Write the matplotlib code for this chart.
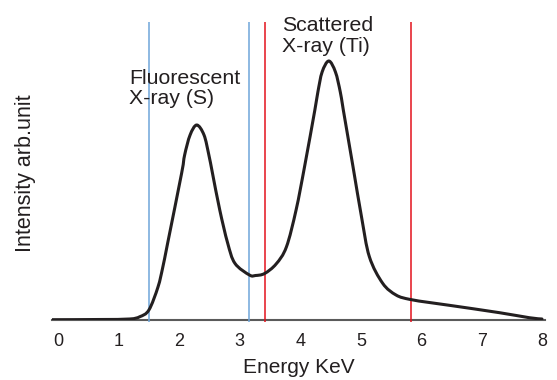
import numpy as np
from matplotlib import pyplot as plt
from matplotlib.path import Path
from matplotlib.patches import PathPatch

plt.rcParams['font.family'] = ['Liberation Sans', 'DejaVu Sans']

# spettro (energia keV, intensita' arb.)
energy = [-0.10, 0.69, 1.18, 1.35, 1.50, 1.65, 1.73, 1.81, 2.04, 2.09, 2.18, 2.29,
          2.41, 2.49, 2.55, 2.67, 2.80, 2.92, 3.16, 3.26, 3.41, 3.60, 3.77, 3.93,
          4.07, 4.24, 4.29, 4.36, 4.47, 4.58, 4.66, 4.71, 4.87, 5.01, 5.14, 5.36,
          5.58, 5.80, 6.13, 6.46, 7.29, 7.78, 7.99]
intensity = [0.3, 0.5, 1, 3.3, 10, 33, 53, 77, 146.7, 165, 185, 195,
             185, 165, 146.7, 110, 77, 56.7, 45, 44.5, 46.5, 56, 73, 110,
             153.3, 210, 228, 248, 259, 248, 228, 210, 153.3, 103.3, 63.3, 36.7,
             25, 20.7, 17.5, 14.7, 7.3, 2.3, 1]

blue_lines = [1.50, 3.15]   # finestra fluorescenza S
red_lines = [3.42, 5.82]    # finestra scattering Ti
xticks = [0, 1, 2, 3, 4, 5, 6, 7, 8]

txt = '#231f20'


def smooth_path(xs, ys):
    # curva passante per i punti letti (segmenti di Bezier, tipo Catmull-Rom)
    p = np.column_stack([xs, ys])
    verts = [p[0]]
    codes = [Path.MOVETO]
    for i in range(len(p) - 1):
        p0 = p[max(i - 1, 0)]
        p1, p2 = p[i], p[i + 1]
        p3 = p[min(i + 2, len(p) - 1)]
        verts += [p1 + (p2 - p0) / 6, p2 - (p3 - p1) / 6, p2]
        codes += [Path.CURVE4] * 3
    return Path(verts, codes)


fig = plt.figure(figsize=(5.57, 3.80), dpi=100)
ax = fig.add_axes([52/557, 60/380, 493/557, 298/380])

ax.vlines(blue_lines, -2, 298, color='#6fa6da', linewidth=1.1, clip_on=False)
ax.vlines(red_lines, -2, 298, color='#e3121c', linewidth=1.1, clip_on=False)
ax.add_patch(PathPatch(smooth_path(energy, intensity), facecolor='none',
                       edgecolor=txt, linewidth=2.2, capstyle='round',
                       joinstyle='round', zorder=3))

ax.set_xlim(-0.1, 8.04)
ax.set_ylim(0, 298)

for s in ['top', 'right', 'left']:
    ax.spines[s].set_visible(False)
ax.spines['bottom'].set_color('#5a5a5a')
ax.spines['bottom'].set_linewidth(1.5)
ax.spines['bottom'].set_zorder(0)

ax.set_yticks([])
ax.set_xticks(xticks)
ax.set_xticklabels([str(t) for t in xticks])
ax.tick_params(axis='x', length=0, pad=9, labelsize=13, labelcolor=txt)

ax.set_xlabel('Energy KeV', fontsize=15, color=txt, labelpad=6)
fig.text(25.5/557, 1 - 173/380, 'Intensity arb.unit', rotation=90, fontsize=15.5,
         color=txt, ha='center', va='center')

ax.text(1.17, 216, 'Fluorescent\nX-ray (S)', fontsize=15.3, color=txt,
        ha='left', va='baseline', linespacing=1.05)
ax.text(3.70, 268.3, 'Scattered\nX-ray (Ti)', fontsize=15.3, color=txt,
        ha='left', va='baseline', linespacing=1.12)

plt.savefig('out.png', dpi=100)
